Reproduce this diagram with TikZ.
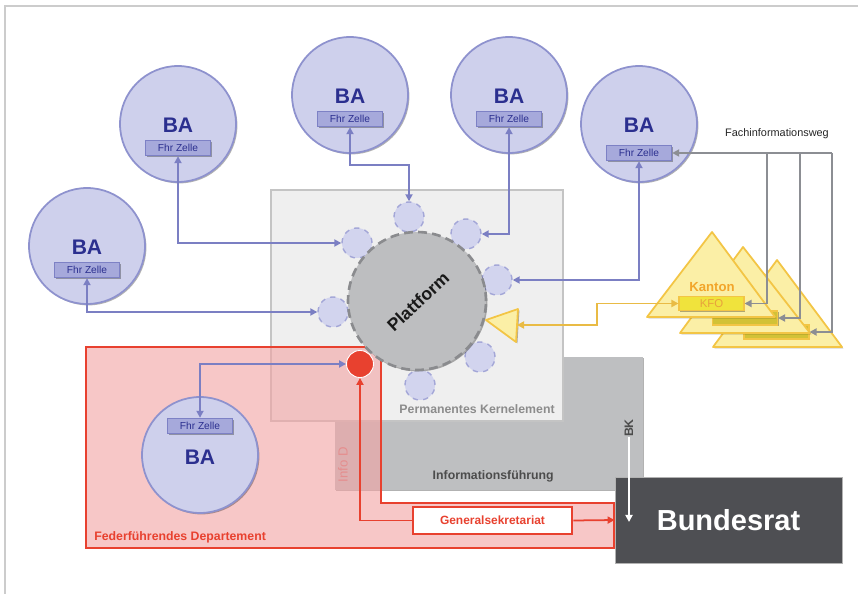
\documentclass[tikz,border=0pt]{standalone}
\usepackage{fontspec}
\setmainfont{Liberation Sans}
\usetikzlibrary{arrows.meta, shadows, positioning}

\definecolor{bafill}{HTML}{CED0EC}
\definecolor{baline}{HTML}{8E92CE}
\definecolor{batext}{HTML}{2B2F8F}
\definecolor{fhrfill}{HTML}{A6A9DB}
\definecolor{fhrline}{HTML}{7D81C5}
\definecolor{baarrow}{HTML}{7B7FC3}
\definecolor{scfill}{HTML}{D2D4EE}
\definecolor{scline}{HTML}{A3A6D7}
\definecolor{plfill}{HTML}{BDBEC0}
\definecolor{plline}{HTML}{8A8B8E}
\definecolor{pkfill}{HTML}{EFEFEF}
\definecolor{pkline}{HTML}{C4C4C4}
\definecolor{iffill}{HTML}{BEBFC1}
\definecolor{redline}{HTML}{E8412F}
\definecolor{pinkfill}{HTML}{F3A3A3}
\definecolor{infod}{HTML}{E58E8E}
\definecolor{yfill}{HTML}{FBEFA6}
\definecolor{yline}{HTML}{F3C545}
\definecolor{yarrow}{HTML}{E9BB45}
\definecolor{kfobar}{HTML}{F0E33C}
\definecolor{kfodark}{HTML}{D2C236}
\definecolor{kfotext}{HTML}{E8A23C}
\definecolor{kanton}{HTML}{F2A52A}
\definecolor{garrow}{HTML}{8C8E93}
\definecolor{brfill}{HTML}{4E4F53}
\definecolor{framec}{HTML}{CCCCCC}

\tikzset{
  shad/.style={drop shadow={shadow xshift=0.8pt, shadow yshift=-0.8pt, opacity=0.3, fill=black}},
  ba/.style={circle, draw=baline, fill=bafill, line width=1pt, minimum size=2.32cm, shad},
  batxt/.style={font=\fontsize{12}{12}\selectfont\bfseries, text=batext, inner sep=0pt},
  fhr/.style={draw=fhrline, fill=fhrfill, line width=0.8pt, minimum width=1.3cm, minimum height=0.3cm,
    inner sep=0pt, font=\fontsize{5.8}{6}\selectfont, text=batext, shad},
  sc/.style={circle, draw=scline, fill=scfill, dashed, line width=0.8pt, minimum size=0.6cm},
  barrow/.style={draw=baarrow, line width=1pt},
  garw/.style={draw=garrow, line width=1pt},
  yarw/.style={draw=yarrow, line width=1pt},
  rarw/.style={draw=redline, line width=1pt},
  tri/.style={draw=yline, fill=yfill, line width=1pt, line join=round, shad},
  kfo/.style={fill=kfodark, draw=yline, line width=0.6pt, minimum width=1.3cm, minimum height=0.28cm, inner sep=0pt, shad},
  lbl/.style={font=\fontsize{7}{8}\selectfont\bfseries, inner sep=0pt}
}

\begin{document}
\begin{tikzpicture}[x=0.02cm, y=-0.02cm, >={Triangle[length=4pt, width=4pt]}]
  \useasboundingbox (0,0) rectangle (858,594);
  \fill[white] (0,0) rectangle (858,594);
  \draw[framec, line width=1pt] (5,600) -- (5,6) -- (860,6);

  % grey blocks
  \node[fill=iffill, minimum width=6.16cm, minimum height=2.66cm, shad] (info) at (489,423.5) {};
  \node[draw=pkline, fill=pkfill, line width=1pt, minimum width=5.84cm, minimum height=4.62cm, shad] (perm) at (417,305.5) {};
  \node[lbl, text=black!45, anchor=east] (permtxt) at (555,409) {Permanentes Kernelement};
  \node[lbl, text=black!70, anchor=east] (infotxt) at (554,476) {Informationsführung};
  \node[lbl, text=black!70, rotate=90] (bk) at (629,428) {BK};

  % department
  \draw[draw=redline, line width=1.3pt, fill=pinkfill, fill opacity=0.6]
    (86,347) -- (381,347) -- (381,503) -- (614,503) -- (614,548) -- (86,548) -- cycle;
  \node[font=\fontsize{7.5}{8}\selectfont, text=infod, rotate=90, inner sep=0pt] (infodtxt) at (343,465) {Info D};
  \node[lbl, text=redline, anchor=west] (dept) at (94,537) {Federführendes Departement};

  % platform
  \node[sc] (sc1) at (409,217) {};
  \node[sc] (sc2) at (357,243) {};
  \node[sc] (sc3) at (466,234) {};
  \node[sc] (sc4) at (497,280) {};
  \node[sc] (sc5) at (333,312) {};
  \node[sc] (sc6) at (480,357) {};
  \node[sc] (sc7) at (420,385) {};
  \node[circle, draw=plline, fill=plfill, dashed, dash pattern=on 5pt off 3pt, line width=1.5pt,
    minimum size=2.76cm, shad] (plat) at (417,301) {};
  \node[font=\fontsize{10}{10}\selectfont\bfseries, text=black!90, rotate=43, inner sep=0pt] (plattxt) at (418,302) {Plattform};
  \node[circle, fill=redline, draw=white, line width=0.5pt, minimum size=0.54cm] (rdot) at (360,364) {};

  % Bundesaemter
  \node[ba] (ba1) at (87,246) {};
  \node[batxt] (ba1t) at (87,247) {BA};
  \node[fhr] (fz1) at (87,270) {Fhr Zelle};
  \node[ba] (ba2) at (178,124) {};
  \node[batxt] (ba2t) at (178,125) {BA};
  \node[fhr] (fz2) at (178,148) {Fhr Zelle};
  \node[ba] (ba3) at (350,95) {};
  \node[batxt] (ba3t) at (350,96) {BA};
  \node[fhr] (fz3) at (350,119) {Fhr Zelle};
  \node[ba] (ba4) at (509,95) {};
  \node[batxt] (ba4t) at (509,96) {BA};
  \node[fhr] (fz4) at (509,119) {Fhr Zelle};
  \node[ba] (ba5) at (639,124) {};
  \node[batxt] (ba5t) at (639,125) {BA};
  \node[fhr] (fz5) at (639,153) {Fhr Zelle};
  \node[ba] (ba6) at (200,455) {};
  \node[batxt] (ba6t) at (200,457) {BA};
  \node[fhr] (fz6) at (200,426) {Fhr Zelle};

  \draw[barrow, <->] (fz1.south) |- (sc5.west);
  \draw[barrow, <->] (fz2.south) |- (sc2.west);
  \draw[barrow, <->] (fz3.south) -- ++(0,38) -| (sc1.north);
  \draw[barrow, <->] (fz4.south) |- (sc3.east);
  \draw[barrow, <->] (fz5.south) |- (sc4.east);
  \draw[barrow, <->] (fz6.north) |- (rdot.west);

  % Kantone
  \draw[tri] (777,260) -- (713,347) -- (842,347) -- cycle;
  \node[kfo] (kfo3) at (776.5,332) {};
  \draw[tri] (743,247) -- (680,333) -- (810,333) -- cycle;
  \node[kfo] (kfo2) at (745,318) {};
  \draw[tri] (712,232) -- (647,317) -- (775,317) -- cycle;
  \node[kfo, fill=kfobar, font=\fontsize{6.5}{7}\selectfont, text=kfotext] (kfo1) at (711.5,303.5) {KFO};
  \node[lbl, font=\fontsize{7.5}{8}\selectfont\bfseries, text=kanton] (kant) at (712,287) {Kanton};
  \draw[tri] (486,320) -- (518,309) -- (516,342) -- cycle;
  \coordinate (ytip) at (517,325);
  \coordinate (ybend) at (597,325);
  \draw[yarw, <->] (kfo1.west) -| (ybend) -- (ytip);

  % Fachinformationsweg
  \coordinate (fw1) at (767,153);
  \coordinate (fw2) at (800,153);
  \coordinate (fw3) at (832,153);
  \draw[garw, ->] (fw1) |- (kfo1.east);
  \draw[garw, ->] (fw2) |- (kfo2.east);
  \draw[garw, ->] (fw3) |- (kfo3.east);
  \draw[garw, ->] (fw3) -- (fz5.east);
  \node[font=\fontsize{6.2}{7}\selectfont, text=black!85] (fachtxt) at (777,134) {Fachinformationsweg};

  % Bundesrat
  \node[draw=redline, fill=white, line width=1.5pt, minimum width=3.18cm, minimum height=0.54cm,
    font=\fontsize{6.8}{7}\selectfont\bfseries, text=redline, shad] (gs) at (492.5,520.5) {Generalsekretariat};
  \node[draw=black!30, fill=brfill, line width=0.5pt, minimum width=4.54cm, minimum height=1.72cm,
    font=\fontsize{16.5}{17}\selectfont\bfseries, text=white, shad] (br) at (728.5,520) {Bundesrat};
  \draw[rarw, ->] (gs.west) -| (rdot.south);
  \draw[rarw, ->] (gs.east) -- (br.west);
  \coordinate (bkend) at (629,522);
  \draw[white, line width=1pt, ->] (bk.west) -- (bkend);
\end{tikzpicture}
\end{document}
